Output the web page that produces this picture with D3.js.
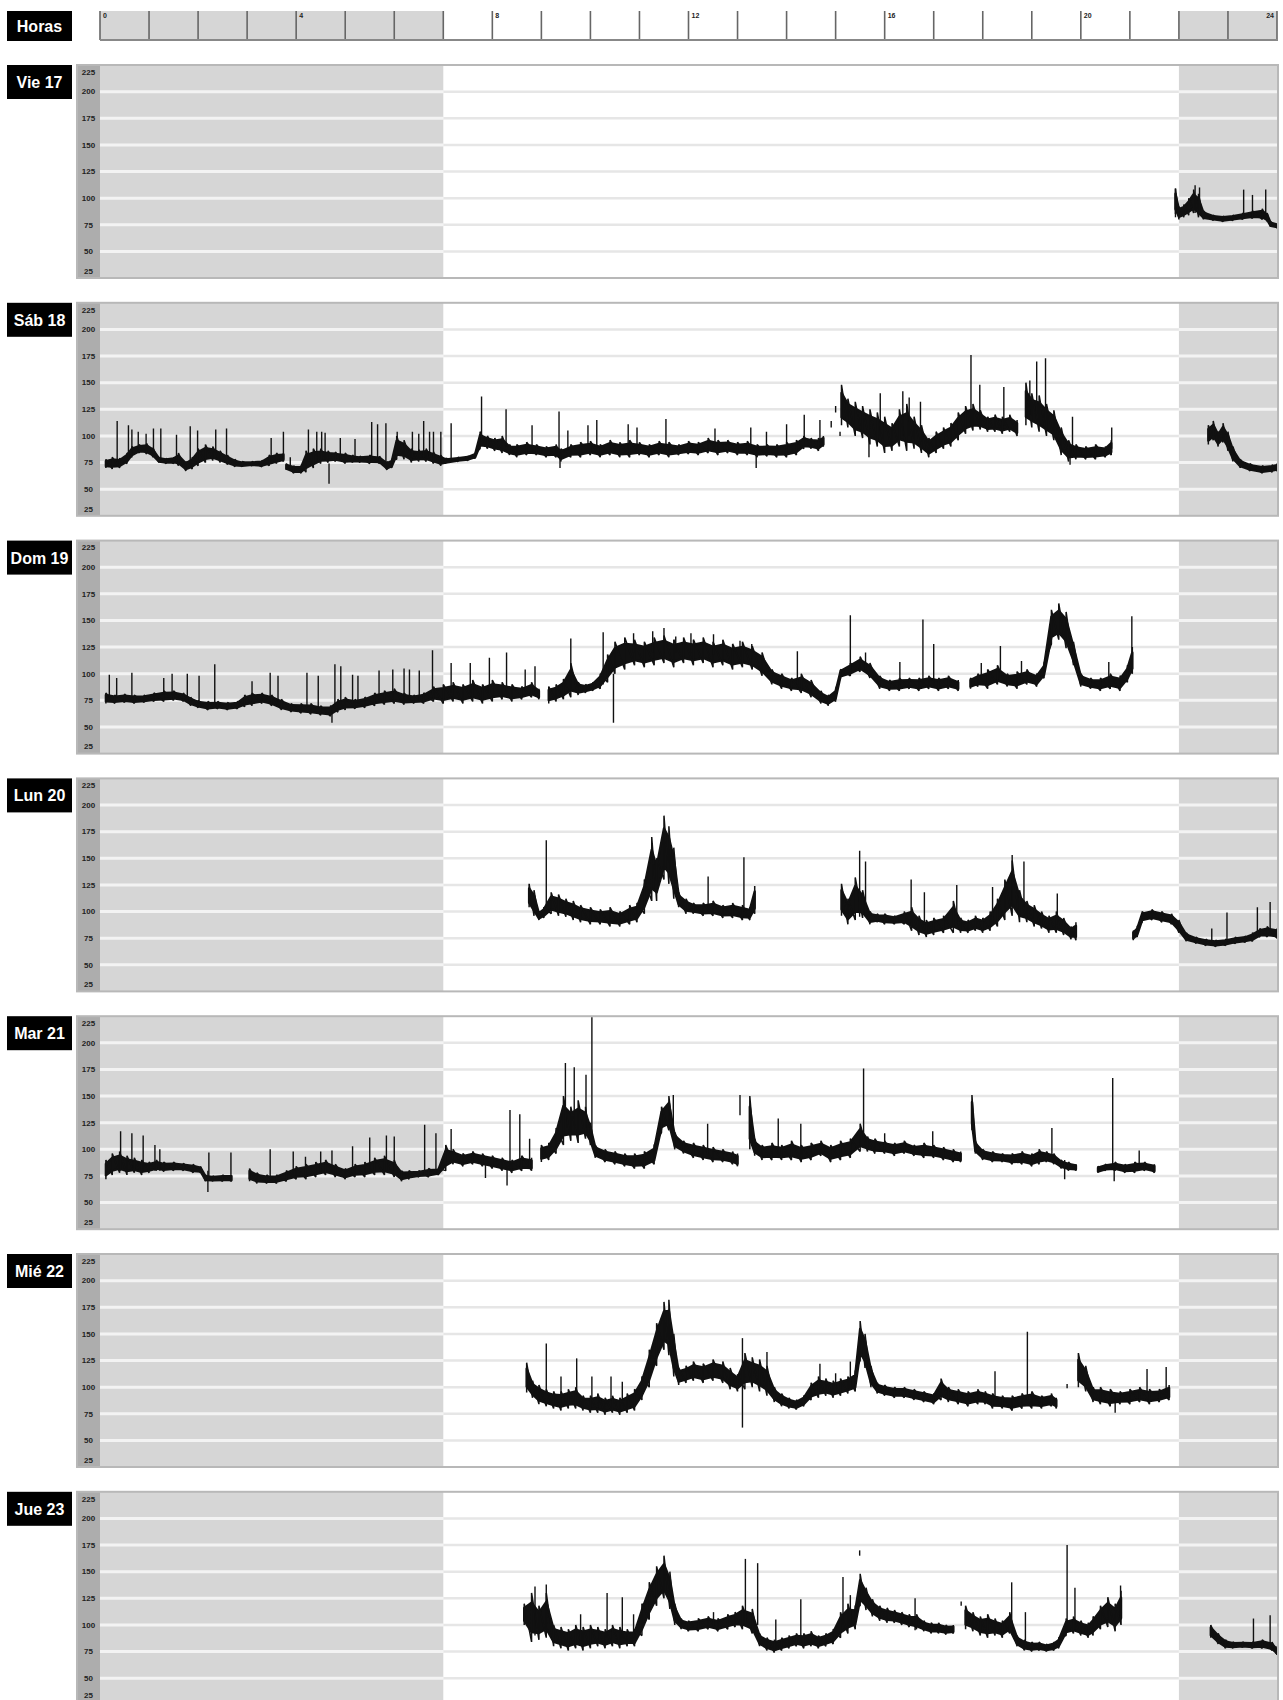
<!DOCTYPE html>
<html>
<head>
<meta charset="utf-8">
<script src="https://cdn.jsdelivr.net/npm/d3@7"></script>
<style>
  body { margin: 0; background: #fff; overflow: hidden; }
  svg text { font-family: "Liberation Sans", Arial, sans-serif; }
</style>
</head>
<body>
<div id="chart"></div>
<script>
// Heart rate per day: bands are [hour, low, high], null = no record
const dayLabels = ['Vie 17', 'Sáb 18', 'Dom 19', 'Lun 20', 'Mar 21', 'Mié 22', 'Jue 23'];
const hourLabels = [0, 4, 8, 12, 16, 20, 24];
const yTicks = [25, 50, 75, 100, 125, 150, 175, 200, 225];
const nightHours = [[0, 7], [22, 24]];

const vie17Band = [[21.93,85,109],[22.0,80,92],[22.1,82,94],[22.2,84,100],[22.3,86,108],[22.4,82,104],[22.5,80,88],[22.7,79,84],[22.9,78,83],[23.1,79,84],[23.3,80,86],[23.5,81,88],[23.7,80,90],[23.8,78,86],[23.87,73,78],[24.0,72,76]];
const vie17Spikes = [[21.93,82,109],[22.33,86,112],[22.42,84,110],[23.32,82,108],[23.5,82,103],[23.77,82,108]];

const sab18Band = [[0.12,70,78],[0.25,69,80],[0.4,70,79],[0.55,74,84],[0.65,80,90],[0.8,84,92],[0.95,83,93],[1.08,80,89],[1.2,75,80],[1.35,74,79],[1.5,74,80],[1.6,72,84],[1.75,67,76],[1.88,69,80],[2.0,72,88],[2.15,75,92],[2.3,77,90],[2.45,75,86],[2.6,73,82],[2.75,71,78],[2.9,71,76],[3.1,72,76],[3.3,71,77],[3.45,72,82],[3.6,74,84],[3.74,76,84],null,
  [3.8,68,74],[3.95,65,72],[4.1,65,72],[4.2,66,86],[4.35,70,88],[4.5,74,88],[4.65,75,86],[4.8,76,85],[5.0,74,84],[5.15,75,82],[5.3,75,81],[5.5,74,82],[5.7,74,81],[5.85,68,76],[5.95,70,78],[6.05,78,100],[6.2,78,96],[6.35,75,88],[6.5,76,87],[6.65,76,88],[6.8,74,85],[6.95,72,82],
  [7.05,74,79],[7.3,76,80],[7.5,77,81],[7.65,79,84],[7.75,88,104],[7.9,88,100],[8.05,86,98],[8.2,84,100],[8.35,82,92],[8.5,80,92],[8.7,82,94],[8.9,82,92],[9.1,80,90],[9.3,80,92],[9.4,76,88],[9.6,80,92],[9.8,80,94],[10.0,82,95],[10.2,80,92],[10.4,82,96],[10.6,80,94],[10.8,80,96],[11.0,82,94],[11.2,80,92],[11.4,82,95],[11.6,80,94],[11.8,82,92],[12.0,83,95],[12.2,82,94],[12.4,84,98],[12.6,82,96],[12.8,84,96],[13.0,82,94],[13.2,82,95],[13.4,80,92],[13.6,81,92],[13.8,80,92],[14.0,80,94],[14.2,82,96],[14.35,88,100],[14.5,88,98],[14.65,86,98],[14.75,90,100],null,
  [15.12,110,148],[15.25,108,135],[15.4,100,132],[15.55,98,128],[15.7,92,125],[15.85,90,122],[16.0,84,118],[16.15,86,112],[16.3,90,125],[16.45,86,130],[16.6,88,118],[16.75,84,110],[16.9,80,98],[17.05,84,104],[17.2,88,108],[17.35,90,112],[17.5,96,122],[17.65,102,128],[17.8,105,130],[17.95,106,124],[18.1,104,118],[18.25,104,120],[18.4,102,118],[18.55,104,120],[18.7,100,115],null,
  [18.88,110,150],[19.0,108,140],[19.15,104,138],[19.3,100,130],[19.45,96,124],[19.6,82,108],[19.75,76,96],[19.9,78,92],[20.1,78,90],[20.3,78,92],[20.5,80,90],[20.62,82,96],null,
  [22.6,92,110],[22.7,96,114],[22.8,90,104],[22.9,94,112],[23.0,86,104],[23.1,76,90],[23.25,70,78],[23.45,67,74],[23.7,65,72],[23.9,66,73],[24.0,67,74]];
const sab18Spikes = [[0.35,76,114],[0.58,78,110],[0.65,84,106],[0.78,86,104],[0.94,86,102],[1.09,84,107],[1.24,78,107],[1.56,76,101],[1.84,72,109],[1.99,78,105],[2.36,82,106],[2.58,78,107],[3.49,76,98],[3.74,78,104],[3.88,70,80],[4.25,76,106],[4.42,76,104],[4.52,78,104],[4.59,78,103],[4.67,55,74],[4.9,78,98],[5.2,78,97],[5.54,78,113],[5.66,78,111],[5.83,76,112],[6.06,86,104],[6.37,80,104],[6.5,80,102],[6.6,80,114],[6.72,80,104],[6.8,80,104],[6.95,78,104],[7.16,78,112],
  [7.78,95,137],[8.28,90,125],[8.81,88,110],[9.36,88,123],[9.38,70,82],[9.54,86,105],[9.95,88,110],[10.13,88,115],[10.77,88,111],[10.95,88,108],[11.54,88,116],[12.54,90,107],[13.27,90,108],[13.38,70,82],[13.59,88,104],[14.0,88,111],[14.36,95,120],[14.68,95,115],[14.91,108,114],[15.0,122,128],[15.09,100,104],[15.68,80,100],[15.91,100,140],[16.37,100,142],[16.5,100,136],[16.73,95,132],[17.76,110,176],[17.94,110,148],[18.43,110,146],[18.96,120,152],[19.1,120,170],[19.28,115,173],[19.78,73,90],[19.83,84,118],[20.63,88,108]];

const dom19Band = [[0.12,72,82],[0.3,72,80],[0.5,73,81],[0.7,72,80],[0.9,73,80],[1.1,74,82],[1.3,74,84],[1.5,75,84],[1.7,74,82],[1.85,70,78],[2.0,68,75],[2.2,66,74],[2.4,67,74],[2.6,66,73],[2.8,67,74],[2.95,69,80],[3.1,70,82],[3.3,72,82],[3.5,70,80],[3.7,66,76],[3.9,64,72],[4.1,63,72],[4.3,62,72],[4.5,61,70],[4.7,60,70],[4.85,64,76],[5.0,66,78],[5.2,67,76],[5.4,68,78],[5.6,70,82],[5.8,71,84],[6.0,72,86],[6.2,71,82],[6.4,72,80],[6.6,72,82],[6.8,74,88],[7.0,72,90],[7.2,74,92],[7.4,72,90],[7.6,74,94],[7.8,72,90],[8.0,74,94],[8.2,76,92],[8.4,74,90],[8.6,76,88],[8.8,78,92],[8.95,76,86],null,
  [9.15,72,88],[9.3,74,90],[9.45,76,95],[9.6,78,110],[9.75,80,92],[9.9,82,90],[10.05,84,92],[10.2,86,100],[10.35,92,118],[10.5,100,130],[10.7,104,134],[10.9,108,132],[11.1,106,130],[11.3,108,134],[11.5,110,136],[11.7,106,132],[11.9,110,134],[12.1,108,132],[12.3,110,134],[12.5,106,130],[12.7,108,132],[12.9,104,128],[13.1,106,130],[13.3,104,126],[13.5,98,120],[13.7,90,104],[13.9,86,100],[14.1,84,96],[14.3,82,100],[14.5,78,94],[14.7,72,84],[14.85,70,80],[15.0,74,86],[15.1,96,104],[15.3,98,110],[15.5,102,116],[15.7,96,110],[15.9,86,98],[16.1,84,94],[16.3,84,96],[16.5,86,96],[16.7,84,96],[16.9,86,98],[17.1,84,96],[17.3,86,98],[17.5,84,94],null,
  [17.75,86,96],[17.9,88,100],[18.1,86,104],[18.3,90,108],[18.5,88,100],[18.7,86,102],[18.9,90,104],[19.1,88,100],[19.25,96,110],[19.4,128,160],[19.55,132,166],[19.7,124,158],[19.85,108,130],[20.0,88,100],[20.2,86,96],[20.4,84,96],[20.6,86,100],[20.8,84,98],[20.95,92,108],[21.05,100,125]];
const dom19Spikes = [[0.19,78,99],[0.34,78,96],[0.65,78,101],[1.3,80,96],[1.47,80,100],[1.78,78,100],[2.02,72,98],[2.34,70,109],[3.1,74,93],[3.47,74,101],[3.63,74,98],[4.22,68,101],[4.45,68,98],[4.73,54,66],[4.79,68,109],[4.91,70,107],[5.15,72,99],[5.26,72,98],[5.69,76,103],[5.97,78,104],[6.2,78,105],[6.31,76,104],[6.51,76,103],[6.78,80,122],[7.16,82,110],[7.55,82,110],[7.94,82,115],[8.29,84,120],[8.67,84,104],[8.87,84,107],[9.6,84,133],[10.26,90,139],[10.47,54,100],[10.88,120,138],[11.27,120,140],[11.5,120,143],[11.74,120,135],[12.05,120,138],[12.51,118,137],[13.05,116,131],[13.29,114,128],[14.22,90,121],[15.3,104,155],[15.61,104,120],[16.31,90,111],[16.78,90,151],[17.0,90,128],[17.97,94,110],[18.36,96,126],[18.79,94,112],[20.57,92,111],[21.04,120,154]];

const lun20Band = [[8.75,104,126],[8.85,96,120],[8.95,92,100],[9.05,94,104],[9.2,98,118],[9.35,96,116],[9.5,95,112],[9.65,92,110],[9.8,90,106],[10.0,88,104],[10.2,88,102],[10.4,86,104],[10.6,86,100],[10.8,88,106],[10.95,90,108],[11.1,98,130],[11.25,110,170],[11.35,110,150],[11.5,130,190],[11.6,126,180],[11.7,112,160],[11.8,104,118],[11.95,98,112],[12.1,98,108],[12.3,96,108],[12.5,96,110],[12.7,94,106],[12.9,94,108],[13.1,92,106],[13.25,92,104],[13.35,98,124],null,
  [15.12,96,126],[15.25,88,112],[15.4,92,132],[15.55,94,120],[15.7,88,100],[15.85,90,98],[16.0,88,98],[16.2,88,96],[16.4,88,100],[16.55,82,104],[16.7,78,96],[16.85,76,92],[17.0,78,94],[17.2,80,96],[17.4,80,110],[17.55,80,94],[17.7,80,92],[17.85,82,96],[18.0,80,94],[18.15,82,100],[18.3,86,112],[18.45,92,130],[18.6,96,148],[18.75,90,120],[18.9,90,110],[19.05,86,106],[19.2,84,100],[19.35,80,96],[19.5,80,100],[19.65,78,94],[19.8,74,86],[19.9,73,90],null,
  [21.07,73,82],[21.15,76,86],[21.25,90,100],[21.45,92,102],[21.65,90,100],[21.85,88,98],[22.0,80,92],[22.15,72,80],[22.35,70,76],[22.55,68,74],[22.75,67,73],[22.95,68,74],[23.15,70,76],[23.35,71,77],[23.5,72,80],[23.65,76,84],[23.8,76,86],[24.0,75,84]];
const lun20Spikes = [[9.1,100,167],[12.4,100,133],[13.13,100,151],[15.49,95,157],[15.61,95,147],[16.54,90,130],[16.81,88,118],[17.47,88,125],[18.2,88,123],[18.6,110,153],[18.84,105,147],[19.52,88,117],[22.67,72,84],[22.98,72,99],[23.6,78,104],[23.86,80,109]];

const mar21Band = [[0.12,72,90],[0.25,76,96],[0.4,78,98],[0.55,76,94],[0.7,78,92],[0.85,76,90],[1.0,78,88],[1.15,80,90],[1.3,79,88],[1.5,80,88],[1.7,80,87],[1.9,78,86],[2.05,78,84],[2.15,70,76],[2.3,70,75],[2.5,70,76],[2.68,70,76],null,
  [3.05,70,82],[3.2,68,78],[3.4,68,76],[3.6,68,76],[3.8,70,80],[4.0,72,84],[4.2,72,86],[4.4,74,88],[4.6,76,90],[4.8,74,86],[5.0,72,82],[5.2,74,86],[5.4,74,88],[5.6,76,92],[5.8,76,94],[6.0,74,90],[6.15,70,80],[6.3,72,80],[6.5,74,80],[6.7,74,82],[6.9,76,82],[7.05,80,104],[7.2,86,100],[7.4,84,96],[7.6,86,98],[7.8,84,96],[8.0,82,94],[8.2,80,92],[8.4,78,90],[8.6,80,94],[8.8,80,92],null,
  [9.0,88,104],[9.15,90,106],[9.3,96,120],[9.45,104,150],[9.6,108,140],[9.75,106,146],[9.9,110,140],[10.0,104,125],[10.1,92,104],[10.3,88,100],[10.5,86,98],[10.7,84,96],[10.9,82,96],[11.1,82,98],[11.3,86,104],[11.45,116,140],[11.6,118,150],[11.72,100,116],[11.9,96,108],[12.1,92,106],[12.3,90,104],[12.5,88,102],[12.7,88,100],[12.9,86,98],[13.0,84,96],null,
  [13.25,100,150],[13.35,94,110],[13.5,90,104],[13.7,90,106],[13.9,90,104],[14.1,90,108],[14.3,88,104],[14.5,90,106],[14.7,94,108],[14.9,88,104],[15.1,90,108],[15.3,92,110],[15.5,98,124],[15.65,98,112],[15.8,96,110],[16.0,96,108],[16.2,94,106],[16.4,96,108],[16.6,94,104],[16.8,92,106],[17.0,92,104],[17.2,90,102],[17.4,88,100],[17.55,88,98],null,
  [17.78,118,151],[17.85,96,108],[18.0,90,100],[18.2,88,98],[18.4,88,96],[18.6,86,96],[18.8,86,98],[19.0,84,96],[19.15,86,100],[19.3,88,98],[19.45,86,96],[19.6,82,90],[19.75,80,88],[19.9,80,86],null,
  [20.35,78,84],[20.5,80,86],[20.7,80,88],[20.9,78,86],[21.1,78,88],[21.3,80,88],[21.5,78,86]];
const mar21Spikes = [[0.42,80,117],[0.65,80,115],[0.88,80,113],[1.12,80,104],[1.22,80,100],[2.2,60,80],[2.22,74,97],[2.67,72,97],[3.47,72,100],[3.94,76,98],[4.19,76,93],[4.5,78,98],[4.73,78,99],[5.15,78,103],[5.5,80,111],[5.84,80,113],[6.0,80,112],[6.62,76,123],[6.85,76,115],[7.16,88,119],[7.86,73,86],[8.3,66,82],[8.36,84,137],[8.56,84,133],[8.76,84,110],[9.49,120,181],[9.67,120,177],[9.91,120,170],[10.03,110,226],[11.69,110,151],[12.39,95,124],[13.05,132,151],[13.83,95,129],[14.29,95,124],[15.57,110,176],[16.0,100,115],[16.98,95,117],[19.41,90,120],[19.67,72,90],[20.65,84,167],[20.68,70,82],[21.19,84,99]];

const mie22Band = [[8.7,95,123],[8.82,90,106],[8.95,84,102],[9.1,82,98],[9.25,80,96],[9.4,78,96],[9.55,80,98],[9.7,80,100],[9.85,78,92],[10.0,76,92],[10.15,76,94],[10.3,74,90],[10.45,76,92],[10.6,74,90],[10.75,76,94],[10.9,78,98],[11.05,88,110],[11.2,100,135],[11.35,120,160],[11.5,135,180],[11.6,130,182],[11.7,110,150],[11.8,102,118],[11.95,104,120],[12.1,106,124],[12.3,104,122],[12.5,106,126],[12.7,104,124],[12.85,98,118],[13.0,96,112],[13.15,98,132],[13.3,100,128],[13.45,96,126],[13.6,92,120],[13.75,86,100],[13.9,82,94],[14.05,80,90],[14.2,79,88],[14.35,82,92],[14.5,88,104],[14.65,90,110],[14.8,92,108],[14.95,90,106],[15.1,92,108],[15.25,94,110],[15.4,96,115],[15.5,125,162],[15.6,118,150],[15.72,100,120],[15.85,94,104],[16.0,92,102],[16.2,90,100],[16.4,90,100],[16.6,88,98],[16.8,86,96],[17.0,84,94],[17.15,88,108],[17.3,86,100],[17.5,84,98],[17.7,82,96],[17.9,84,98],[18.05,84,96],[18.2,80,94],[18.4,80,92],[18.6,78,92],[18.8,80,94],[19.0,80,96],[19.2,80,92],[19.4,82,94],[19.5,80,90],null,
  [19.95,100,132],[20.1,96,120],[20.25,86,100],[20.4,84,100],[20.6,82,98],[20.8,84,96],[21.0,84,98],[21.2,86,100],[21.4,84,98],[21.6,86,98],[21.8,88,102]];
const mie22Spikes = [[9.1,95,141],[9.4,90,110],[9.72,95,127],[10.03,88,110],[10.42,88,110],[10.65,88,105],[13.1,62,146],[13.6,110,133],[14.68,100,122],[15.0,100,113],[15.3,100,124],[18.25,90,115],[18.91,88,152],[19.72,99,103],[20.7,76,90],[21.35,95,117],[21.74,95,119]];

const jue23Band = [[8.65,100,120],[8.8,84,130],[8.95,86,118],[9.1,88,130],[9.25,80,100],[9.4,78,98],[9.55,76,96],[9.7,78,100],[9.85,76,98],[10.0,78,100],[10.15,80,98],[10.3,78,96],[10.45,80,100],[10.6,78,98],[10.75,80,96],[10.9,80,96],[11.05,90,120],[11.2,105,140],[11.35,118,155],[11.5,125,165],[11.62,115,150],[11.72,100,120],[11.85,96,106],[12.0,94,104],[12.2,94,106],[12.4,96,108],[12.6,94,106],[12.8,96,110],[12.95,98,112],[13.1,96,118],[13.3,92,115],[13.45,80,92],[13.6,76,88],[13.75,74,86],[13.9,76,88],[14.05,78,90],[14.2,80,92],[14.35,78,92],[14.5,80,94],[14.65,78,90],[14.8,80,92],[14.95,82,96],[15.1,88,112],[15.25,92,120],[15.4,96,118],[15.5,118,148],[15.62,114,135],[15.75,108,124],[15.9,104,118],[16.05,102,116],[16.2,102,114],[16.35,100,112],[16.5,98,110],[16.65,96,110],[16.8,94,104],[16.95,92,102],[17.1,92,102],[17.25,91,100],[17.4,92,100],null,
  [17.65,96,118],[17.8,94,112],[17.95,90,108],[18.1,88,110],[18.25,90,106],[18.4,88,104],[18.55,92,112],[18.7,80,90],[18.85,76,86],[19.0,75,84],[19.15,76,84],[19.3,75,82],[19.45,76,84],[19.55,78,88],[19.7,90,106],[19.85,92,108],[20.0,90,104],[20.15,88,102],[20.25,90,108],[20.4,96,118],[20.55,98,126],[20.7,94,120],[20.82,100,132],null,
  [22.65,88,100],[22.8,82,92],[22.95,78,86],[23.1,78,84],[23.3,79,84],[23.5,78,84],[23.7,78,86],[23.9,76,84],[24.0,72,78]];
const jue23Spikes = [[8.87,90,136],[9.1,90,138],[9.8,85,110],[10.34,88,130],[10.65,88,126],[10.88,88,110],[12.51,98,112],[13.16,100,162],[13.41,100,158],[13.78,76,105],[14.29,85,124],[15.15,100,145],[15.3,100,128],[15.49,165,170],[16.62,95,125],[17.56,118,122],[18.59,95,140],[18.87,80,112],[19.72,95,175],[19.88,95,135],[20.81,105,137],[23.52,80,106],[23.86,80,109],[23.98,73,80]];

const days = [
  { label: dayLabels[0], band: vie17Band, spikes: vie17Spikes },
  { label: dayLabels[1], band: sab18Band, spikes: sab18Spikes },
  { label: dayLabels[2], band: dom19Band, spikes: dom19Spikes },
  { label: dayLabels[3], band: lun20Band, spikes: lun20Spikes },
  { label: dayLabels[4], band: mar21Band, spikes: mar21Spikes },
  { label: dayLabels[5], band: mie22Band, spikes: mie22Spikes },
  { label: dayLabels[6], band: jue23Band, spikes: jue23Spikes }
];

const width = 1283, height = 1700;
const axisLeft = 77, plotLeft = 100, plotRight = 1277;
const panelTop = 65, panelStep = 237.8, panelHeight = 213;
const nightFill = '#d6d6d6';
const ink = '#111';

const svg = d3.select('#chart')
    .append('svg')
    .attr('width', width)
    .attr('height', height);

const x = d3.scaleLinear()
    .domain([0, 24])
    .range([plotLeft, plotRight]);

function labelBox(g, top, h, text) {
    g.append('rect')
        .attr('x', 7).attr('y', top)
        .attr('width', 65).attr('height', h)
        .attr('fill', '#000');
    g.append('text')
        .attr('x', 39.5).attr('y', top + h / 2 + 6)
        .attr('text-anchor', 'middle')
        .attr('fill', '#fff')
        .attr('font-size', 16)
        .attr('font-weight', 'bold')
        .text(text);
}

// Hours header
function drawHeader() {
    const g = svg.append('g');
    const top = 11, bottom = 40;
    labelBox(g, top, 30, 'Horas');

    g.selectAll('.night')
        .data(nightHours)
        .enter().append('rect')
        .attr('x', d => x(d[0]))
        .attr('width', d => x(d[1]) - x(d[0]))
        .attr('y', top)
        .attr('height', bottom - top)
        .attr('fill', nightFill);

    g.selectAll('.tick')
        .data(x.ticks(24))
        .enter().append('line')
        .attr('x1', d => x(d)).attr('x2', d => x(d))
        .attr('y1', top).attr('y2', bottom)
        .attr('stroke', '#666')
        .attr('stroke-width', 1.6);

    g.append('line')
        .attr('x1', plotLeft).attr('x2', plotRight + 1)
        .attr('y1', bottom).attr('y2', bottom)
        .attr('stroke', '#888')
        .attr('stroke-width', 2);

    g.selectAll('.hlabel')
        .data(hourLabels)
        .enter().append('text')
        .attr('x', d => d === 24 ? x(d) - 3 : x(d) + 3)
        .attr('y', top + 7)
        .attr('text-anchor', d => d === 24 ? 'end' : 'start')
        .attr('font-size', 7)
        .attr('font-weight', 'bold')
        .attr('fill', '#222')
        .text(d => d);
}

function drawDay(day, i) {
    const top = panelTop + i * panelStep;
    const bottom = top + panelHeight;
    const g = svg.append('g');

    const y = d3.scaleLinear()
        .domain([25, 225])
        .range([bottom, top]);

    labelBox(g, top, 34, day.label);

    g.append('rect')
        .attr('x', axisLeft).attr('y', top)
        .attr('width', plotLeft - axisLeft).attr('height', panelHeight)
        .attr('fill', '#adadad');

    g.append('rect')
        .attr('x', plotLeft).attr('y', top)
        .attr('width', plotRight - plotLeft).attr('height', panelHeight)
        .attr('fill', '#fff');

    g.selectAll('.night')
        .data(nightHours)
        .enter().append('rect')
        .attr('x', d => x(d[0]))
        .attr('width', d => x(d[1]) - x(d[0]))
        .attr('y', top)
        .attr('height', panelHeight)
        .attr('fill', nightFill);

    const grid = yTicks.filter(v => v > 25 && v < 225);

    // gridlines: light grey on the day part, white on the night parts
    g.selectAll('.gridDay')
        .data(grid)
        .enter().append('line')
        .attr('x1', x(7)).attr('x2', x(22))
        .attr('y1', d => y(d)).attr('y2', d => y(d))
        .attr('stroke', '#e6e6e6')
        .attr('stroke-width', 2.5);

    nightHours.forEach(([a, b]) => {
        g.selectAll(null)
            .data(grid)
            .enter().append('line')
            .attr('x1', x(a)).attr('x2', x(b))
            .attr('y1', d => y(d)).attr('y2', d => y(d))
            .attr('stroke', '#f3f3f3')
            .attr('stroke-width', 3);
    });

    g.selectAll('.ylabel')
        .data(yTicks)
        .enter().append('text')
        .attr('x', 88.5)
        .attr('y', d => Math.min(Math.max(y(d), top + 7), bottom - 7, height - 5))
        .attr('dy', '0.35em')
        .attr('text-anchor', 'middle')
        .attr('font-size', 8)
        .attr('font-weight', 'bold')
        .attr('fill', '#222')
        .text(d => d);

    g.append('rect')
        .attr('x', axisLeft).attr('y', top)
        .attr('width', plotRight - axisLeft + 1).attr('height', panelHeight)
        .attr('fill', 'none')
        .attr('stroke', '#b8b8b8')
        .attr('stroke-width', 2);

    const clipId = 'clip' + i;
    svg.append('clipPath')
        .attr('id', clipId)
        .append('rect')
        .attr('x', plotLeft).attr('y', top + 1)
        .attr('width', plotRight - plotLeft).attr('height', panelHeight - 2);

    const trace = g.append('g').attr('clip-path', `url(#${clipId})`);

    // split the band into runs at the null gaps
    const runs = [[]];
    day.band.forEach(d => {
        if (d === null) runs.push([]);
        else runs[runs.length - 1].push(d);
    });

    const core = d3.area()
        .x(d => x(d[0]))
        .y0(d => y(d[1] + (d[2] - d[1]) * 0.2))
        .y1(d => y(d[2] - (d[2] - d[1]) * 0.2));

    // sawtooth: up stroke at each reading, then down to the next low
    const saw = d3.line()
        .x(d => x(d[0]))
        .y(d => y(d[1]));

    runs.filter(r => r.length > 1).forEach(run => {
        const pts = [];
        run.forEach(d => pts.push([d[0], d[1]], [d[0], d[2]]));

        trace.append('path')
            .datum(run)
            .attr('d', core)
            .attr('fill', ink)
            .attr('stroke', ink)
            .attr('stroke-width', 2.4)
            .attr('stroke-linejoin', 'round');

        trace.append('path')
            .datum(pts)
            .attr('d', saw)
            .attr('fill', 'none')
            .attr('stroke', ink)
            .attr('stroke-width', 1.5)
            .attr('stroke-linejoin', 'bevel');
    });

    trace.selectAll('.spike')
        .data(day.spikes)
        .enter().append('line')
        .attr('x1', d => x(d[0])).attr('x2', d => x(d[0]))
        .attr('y1', d => y(d[1])).attr('y2', d => y(d[2]))
        .attr('stroke', ink)
        .attr('stroke-width', 1.4);
}

drawHeader();
days.forEach(drawDay);
</script>
</body>
</html>
